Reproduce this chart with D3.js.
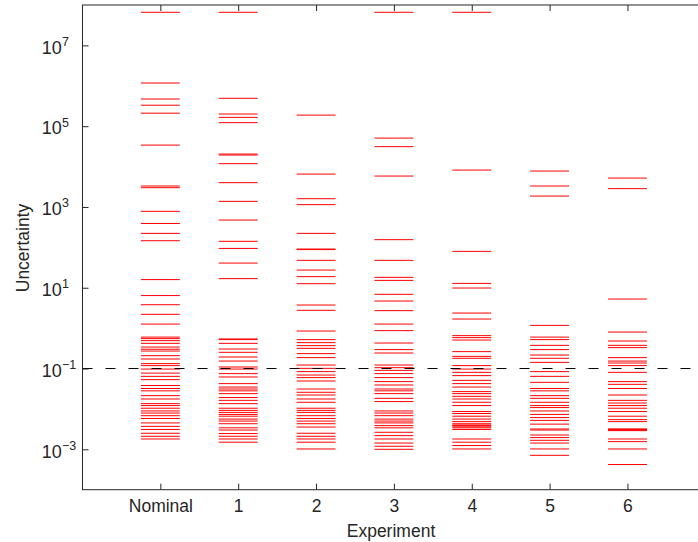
<!DOCTYPE html>
<html>
<head>
<meta charset="utf-8">
<script src="https://cdn.jsdelivr.net/npm/d3@7"></script>
<style>
  html, body { margin: 0; padding: 0; background: #fff; }
  svg { display: block; }
  text { font-family: "Liberation Sans", Arial, Helvetica, sans-serif; fill: #262626; }
</style>
</head>
<body>
<svg id="chart" width="698" height="542"></svg>
<script>
// --- Data ---
const categories = ['Nominal', '1', '2', '3', '4', '5', '6'];

const nominalValues = [6.6e7, 1.17e6, 4.7e5, 3.3e5, 2.1e5, 3.4e4, 3.3e3, 3.0e3, 780, 390, 222, 146,
  15.9, 6.4, 3.8, 2.2, 1.26, 0.60, 0.55, 0.49, 0.42, 0.34, 0.30, 0.271, 0.208, 0.172, 0.132, 0.118,
  0.097, 0.077, 0.064, 0.053, 0.038, 0.032, 0.028, 0.0213, 0.0176, 0.0135, 0.0121, 0.0104, 0.0089,
  0.0079, 0.0068, 0.0058, 0.0045, 0.0037, 0.0031, 0.0025, 0.0021, 0.0018];

const exp1Values = [6.6e7, 4.9e5, 2.0e5, 1.65e5, 1.22e5, 2.04e4, 1.93e4, 1.18e4, 3990, 1377, 474, 141,
  94, 40.8, 16.8, 0.54, 0.52, 0.42, 0.304, 0.252, 0.193, 0.153, 0.109, 0.097, 0.0748, 0.0617, 0.0423,
  0.0348, 0.0311, 0.028, 0.0239, 0.0191, 0.0163, 0.0135, 0.0104, 0.0092, 0.0082, 0.0073, 0.0066,
  0.0056, 0.0050, 0.0043, 0.0034, 0.0030, 0.00245, 0.0021, 0.0018, 0.0015];

const exp2Values = [1.88e5, 6520, 1600, 1140, 222, 90.8, 88, 47.7, 27.4, 18.8, 12.6, 3.73, 2.76, 0.847,
  0.519, 0.437, 0.369, 0.316, 0.234, 0.186, 0.122, 0.101, 0.0838, 0.069, 0.0596, 0.0491, 0.0311,
  0.0258, 0.0221, 0.0176, 0.0146, 0.0104, 0.0092, 0.0082, 0.0068, 0.0058, 0.0050, 0.0043, 0.00356,
  0.0025, 0.0021, 0.0018, 0.0015, 0.00102];

const exp3Values = [6.6e7, 5.07e4, 3.11e4, 5820, 155, 47.7, 18.1, 15.2, 6.87, 4.69, 2.71, 1.26, 0.867,
  0.428, 0.294, 0.242, 0.122, 0.105, 0.090, 0.0748, 0.0596, 0.0474, 0.0391, 0.0311, 0.028, 0.0239,
  0.0183, 0.0152, 0.0089, 0.0079, 0.0068, 0.0056, 0.0050, 0.0045, 0.00386, 0.0034, 0.00264, 0.00218,
  0.0018, 0.00143, 0.00119, 0.001];

const exp4Values = [6.6e7, 8190, 79.6, 12.8, 9.84, 2.36, 1.68, 0.652, 0.582, 0.507, 0.262, 0.200, 0.179,
  0.118, 0.097, 0.0805, 0.0667, 0.0510, 0.0423, 0.0348, 0.0268, 0.0239, 0.0205, 0.0176, 0.0146, 0.0121,
  0.0086, 0.0077, 0.0066, 0.0056, 0.00485, 0.0043, 0.0040, 0.00386, 0.0036, 0.0034, 0.0031, 0.0018,
  0.0015, 0.00124, 0.00102];

const exp5Values = [7740, 3300, 1860, 1.17, 0.60, 0.52, 0.375, 0.294, 0.216, 0.179, 0.142, 0.0838, 0.064,
  0.0455, 0.032, 0.028, 0.0213, 0.0183, 0.0146, 0.0121, 0.0108, 0.0089, 0.0073, 0.0061, 0.0052, 0.0042,
  0.00318, 0.0030, 0.00226, 0.00195, 0.00167, 0.00143, 0.00102, 0.00071];

const exp6Values = [5190, 2840, 5.25, 0.80, 0.48, 0.375, 0.329, 0.186, 0.153, 0.137, 0.118, 0.0805, 0.0474,
  0.0406, 0.032, 0.0221, 0.0163, 0.0140, 0.0121, 0.0104, 0.0086, 0.0066, 0.00543, 0.00485, 0.0032,
  0.0031, 0.0030, 0.0029, 0.0018, 0.00155, 0.00102, 0.00042];

const seriesValues = [nominalValues, exp1Values, exp2Values, exp3Values, exp4Values, exp5Values, exp6Values];

// y ticks: only every second decade is labelled
const yTickExponents = [-3, -1, 1, 3, 5, 7];
const thresholdValue = 0.1; // dashed reference line

// --- Layout ---
const svg = d3.select('#chart');
const plotLeft = 82.5, plotBottom = 489.7, plotTop = 5;
const step = 77.85; // distance between categories
const BAR_HALF = 0.25; // half width of a segment, in x units

const x = d3.scaleLinear().domain([0, categories.length + 1]).range([plotLeft, plotLeft + step * (categories.length + 1)]);
const y = d3.scaleLog().domain([1e-4, 1e8]).range([plotBottom, plotTop]);

// --- Segments ---
const segGroup = svg.append('g');
seriesValues.forEach((vals, i) => {
  const cx = i + 1;
  segGroup.selectAll(null)
    .data(vals)
    .enter().append('line')
    .attr('x1', x(cx - BAR_HALF))
    .attr('x2', x(cx + BAR_HALF))
    .attr('y1', d => y(d))
    .attr('y2', d => y(d))
    .attr('stroke', '#ff0000')
    .attr('stroke-width', 1);
});

// dashed threshold line
svg.append('line')
  .attr('x1', x(0)).attr('x2', x(categories.length + 1))
  .attr('y1', y(thresholdValue)).attr('y2', y(thresholdValue))
  .attr('stroke', '#000')
  .attr('stroke-width', 1)
  .attr('stroke-dasharray', '10,13');

// --- Axes ---
const xTicks = d3.range(1, categories.length + 1);

const bottomAxis = d3.axisBottom(x)
  .tickValues(xTicks)
  .tickSizeInner(-6).tickSizeOuter(0).tickPadding(10)
  .tickFormat(d => categories[d - 1]);
const topAxis = d3.axisTop(x)
  .tickValues(xTicks)
  .tickSizeInner(-6).tickSizeOuter(0)
  .tickFormat('');
const leftAxis = d3.axisLeft(y)
  .tickValues(yTickExponents.map(e => Math.pow(10, e)))
  .tickSizeInner(-6).tickSizeOuter(0)
  .tickFormat('');

function styleAxis(g) {
  g.select('.domain').remove();
  g.selectAll('.tick line').attr('stroke', '#262626');
  g.selectAll('.tick text')
    .attr('font-family', '"Liberation Sans", Arial, Helvetica, sans-serif')
    .attr('font-size', '17.5px')
    .attr('fill', '#262626');
}

svg.append('g').attr('transform', `translate(0,${plotBottom})`).call(bottomAxis).call(styleAxis);
svg.append('g').attr('transform', `translate(0,${plotTop})`).call(topAxis).call(styleAxis);
svg.append('g').attr('transform', `translate(${plotLeft},0)`).call(leftAxis).call(styleAxis);

// frame (right edge falls outside the picture)
svg.append('rect')
  .attr('x', x(0)).attr('y', plotTop)
  .attr('width', x(categories.length + 1) - x(0))
  .attr('height', plotBottom - plotTop)
  .attr('fill', 'none')
  .attr('stroke', '#262626')
  .attr('stroke-width', 1);

// y tick labels as 10 with superscript exponent
const yLabels = svg.append('g');
yTickExponents.forEach(e => {
  const ty = y(Math.pow(10, e));
  yLabels.append('text')
    .attr('x', 61.7).attr('y', ty + 8.3)
    .attr('text-anchor', 'end')
    .attr('font-size', '18px')
    .text('10');
  yLabels.append('text')
    .attr('x', 62).attr('y', ty + 0.5)
    .attr('font-size', '12.5px')
    .text(e < 0 ? '\u2212' + Math.abs(e) : String(e));
});

// axis titles
svg.append('text')
  .attr('x', 391).attr('y', 537)
  .attr('text-anchor', 'middle')
  .attr('font-size', '17.5px')
  .text('Experiment');

svg.append('text')
  .attr('transform', `translate(29,248) rotate(-90)`)
  .attr('text-anchor', 'middle')
  .attr('font-size', '17.5px')
  .text('Uncertainty');
</script>
</body>
</html>
